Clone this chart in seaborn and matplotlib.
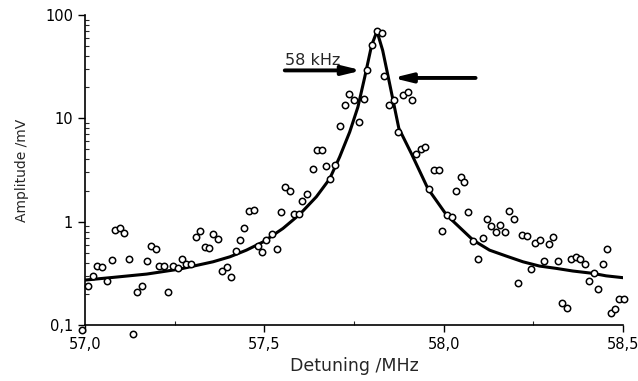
import pandas as pd
import matplotlib.pyplot as plt
import seaborn as sns

det_mhz = [56.992, 57.009, 57.021, 57.033, 57.047, 57.060, 57.074, 57.084, 57.098, 57.109,
           57.122, 57.133, 57.146, 57.158, 57.173, 57.183, 57.198, 57.207, 57.221, 57.232,
           57.246, 57.258, 57.270, 57.281, 57.296, 57.309, 57.322, 57.334, 57.346, 57.357,
           57.370, 57.381, 57.395, 57.408, 57.421, 57.433, 57.444, 57.457, 57.471, 57.481,
           57.494, 57.506, 57.521, 57.534, 57.546, 57.557, 57.571, 57.582, 57.596, 57.606,
           57.619, 57.636, 57.648, 57.662, 57.673, 57.682, 57.697, 57.710, 57.724, 57.736,
           57.750, 57.764, 57.777, 57.785, 57.799, 57.813, 57.828, 57.835, 57.848, 57.862,
           57.874, 57.887, 57.901, 57.913, 57.924, 57.937, 57.949, 57.960, 57.973, 57.987,
           57.996, 58.008, 58.022, 58.033, 58.047, 58.058, 58.069, 58.082, 58.095, 58.110,
           58.121, 58.133, 58.145, 58.158, 58.170, 58.182, 58.195, 58.207, 58.219, 58.233,
           58.244, 58.256, 58.269, 58.281, 58.293, 58.305, 58.318, 58.331, 58.343, 58.356,
           58.368, 58.381, 58.393, 58.405, 58.418, 58.430, 58.444, 58.455, 58.467, 58.479,
           58.490, 58.503]
amp_mv = [0.0895, 0.238, 0.297, 0.376, 0.366, 0.266, 0.425, 0.828, 0.875, 0.783,
          0.434, 0.0818, 0.207, 0.238, 0.413, 0.584, 0.542, 0.372, 0.372, 0.208,
          0.373, 0.353, 0.434, 0.393, 0.389, 0.713, 0.804, 0.571, 0.551, 0.752,
          0.682, 0.330, 0.366, 0.289, 0.515, 0.658, 0.866, 1.27, 1.31, 0.582,
          0.513, 0.663, 0.754, 0.545, 1.23, 2.17, 1.96, 1.18, 1.195, 1.59,
          1.86, 3.22, 4.99, 4.91, 3.44, 2.59, 3.57, 8.41, 13.4, 17.1,
          15.1, 9.25, 15.3, 29.1, 50.7, 69.7, 67.3, 25.6, 13.4, 14.9,
          7.37, 16.7, 17.9, 15.2, 4.49, 5.10, 5.25, 2.07, 3.19, 3.15,
          0.810, 1.16, 1.12, 1.99, 2.69, 2.42, 1.23, 0.648, 0.431, 0.688,
          1.06, 0.905, 0.797, 0.935, 0.797, 1.26, 1.07, 0.253, 0.746, 0.727,
          0.345, 0.624, 0.663, 0.420, 0.604, 0.713, 0.420, 0.162, 0.145, 0.434,
          0.457, 0.432, 0.393, 0.268, 0.318, 0.222, 0.389, 0.545, 0.130, 0.144,
          0.179, 0.179]

# fitted curve
fit_x = [57.000, 57.079, 57.172, 57.265, 57.357, 57.404, 57.450, 57.497, 57.552, 57.599,
         57.645, 57.682, 57.710, 57.738, 57.761, 57.780, 57.799, 57.814, 57.830, 57.845,
         57.859, 57.875, 57.910, 57.956, 58.008, 58.082, 58.128, 58.175, 58.221, 58.267,
         58.314, 58.360, 58.416, 58.453, 58.504]
fit_y = [0.272, 0.289, 0.311, 0.348, 0.409, 0.457, 0.530, 0.638, 0.860, 1.18,
         1.74, 2.59, 4.23, 7.37, 12.9, 25.1, 50.7, 69.7, 45.4, 25.6,
         14.9, 8.01, 4.56, 2.09, 1.16, 0.663, 0.530, 0.464, 0.409, 0.372,
         0.353, 0.333, 0.316, 0.299, 0.286]

x_ticks = [57.0, 57.5, 58.0, 58.5]
x_labels = ['57,0', '57,5', '58,0', '58,5']
y_ticks = [0.1, 1, 10, 100]
y_labels = ['0,1', '1', '10', '100']

points = pd.DataFrame({'det': det_mhz, 'amp': amp_mv})
fit = pd.DataFrame({'det': fit_x, 'amp': fit_y})

sns.set_style('ticks')
plt.rcParams['font.family'] = ['DejaVu Sans']

fig = plt.figure(figsize=(6.38, 3.81), dpi=100)
ax = fig.add_axes([0.1332, 0.147, 0.8433, 0.8136])

sns.lineplot(data=fit, x='det', y='amp', ax=ax, color='black', linewidth=2.2,
             sort=False, estimator=None)
sns.scatterplot(data=points, x='det', y='amp', ax=ax, marker='o', s=21,
                facecolor='white', edgecolor='black', linewidth=1.1,
                clip_on=False, zorder=3)

ax.set_yscale('log')
ax.set_xlim(57.0, 58.5)
ax.set_ylim(0.1, 100)

ax.set_xticks(x_ticks)
ax.set_xticklabels(x_labels)
ax.set_xticks([57.25, 57.75, 58.25], minor=True)
ax.set_yticks(y_ticks)
ax.set_yticklabels(y_labels)
ax.tick_params(axis='both', which='major', direction='out', length=5, width=1,
               labelsize=10.5, colors='black')
ax.tick_params(axis='both', which='minor', direction='in', length=3, width=0.8)

ax.set_xlabel('Detuning /MHz', fontsize=12.5, labelpad=4)
ax.set_ylabel('Amplitude /mV', fontsize=10, labelpad=12)
sns.despine(ax=ax)
for sp in ['left', 'bottom']:
    ax.spines[sp].set_linewidth(1.2)
    ax.spines[sp].set_color('black')

# linewidth marker
ax.text(57.557, 36.3, '58 kHz', fontsize=11.5, va='center', ha='left')
ax.annotate('', xy=(57.772, 29.1), xytext=(57.557, 29.1),
            arrowprops=dict(arrowstyle='-|>,head_length=0.9,head_width=0.22',
                            mutation_scale=12, lw=2.8, color='black',
                            shrinkA=0, shrinkB=0))
ax.annotate('', xy=(57.858, 24.6), xytext=(58.089, 24.6),
            arrowprops=dict(arrowstyle='-|>,head_length=0.9,head_width=0.22',
                            mutation_scale=12, lw=2.8, color='black',
                            shrinkA=0, shrinkB=0))

fig.savefig('out.png', dpi=100)
